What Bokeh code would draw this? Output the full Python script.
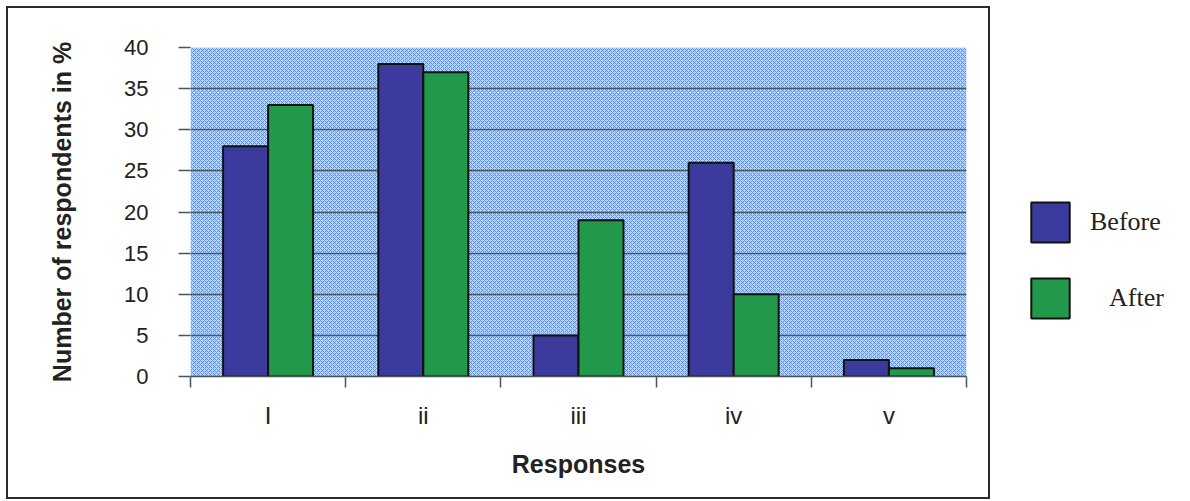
from bokeh.plotting import figure
from bokeh.models import (ColumnDataSource, Range1d, FixedTicker, BoxAnnotation,
                          Legend, LegendItem)
from bokeh.transform import dodge
from bokeh.layouts import row
from bokeh.embed import file_html
from bokeh.resources import INLINE

# ---- data ----
categories = ["I", "ii", "iii", "iv", "v"]
before = [28, 38, 5, 26, 2]
after = [33, 37, 19, 10, 1]
y_ticks = [0, 5, 10, 15, 20, 25, 30, 35, 40]
series_names = ["Before", "After"]

BEFORE_COLOR = "#3b3b9d"
AFTER_COLOR = "#21984a"
TEXT = "#222222"
AX = "#4d5656"

centers = [i + 0.5 for i in range(len(categories))]
source = ColumnDataSource(dict(x=centers, cat=categories, before=before, after=after))

p = figure(width=984, height=493, output_backend="svg", toolbar_location=None,
           x_range=Range1d(0, len(categories)), y_range=Range1d(0, 40),
           min_border_left=182, min_border_right=26, min_border_top=39,
           min_border_bottom=125)
p.styles = {"border": "2px solid #2b2b2b"}
p.margin = (6, 0, 0, 6)
p.outline_line_color = None
p.background_fill_color = "white"

# hatched blue plot area
bg = BoxAnnotation(fill_color="#b8d5f7", fill_alpha=1.0, line_color=None,
                   hatch_pattern="diagonal_cross", hatch_color="#4f84de",
                   hatch_scale=4, hatch_weight=1, hatch_alpha=0.85, level="image")
p.add_layout(bg)

bw = 0.29
r_before = p.vbar(x=dodge("x", -bw / 2, range=p.x_range), top="before", width=bw,
                  source=source, fill_color=BEFORE_COLOR, line_color="#111111",
                  line_width=2)
r_after = p.vbar(x=dodge("x", bw / 2, range=p.x_range), top="after", width=bw,
                 source=source, fill_color=AFTER_COLOR, line_color="#111111",
                 line_width=2)

# grid
p.xgrid.visible = False
p.ygrid.ticker = FixedTicker(ticks=[t for t in y_ticks if t < 40])
p.ygrid.grid_line_color = AX
p.ygrid.grid_line_width = 1.5

# x axis: labels at centers, ticks at category boundaries
xa = p.xaxis[0]
xa.ticker = FixedTicker(ticks=centers, minor_ticks=list(range(len(categories) + 1)))
xa.major_label_overrides = {c: lab for c, lab in zip(centers, categories)}
xa.major_tick_out = 0
xa.major_tick_in = 0
xa.major_tick_line_color = None
xa.minor_tick_out = 11
xa.minor_tick_in = 0
xa.minor_tick_line_color = AX
xa.minor_tick_line_width = 1.5
xa.axis_line_color = AX
xa.axis_line_width = 1.5
xa.major_label_standoff = 14
xa.major_label_text_font = "Liberation Sans"
xa.major_label_text_font_size = "24px"
xa.major_label_text_color = TEXT
xa.axis_label = "Responses"
xa.axis_label_text_font = "Liberation Sans"
xa.axis_label_text_font_style = "bold"
xa.axis_label_text_font_size = "25px"
xa.axis_label_text_color = TEXT
xa.axis_label_standoff = 18

# y axis
ya = p.yaxis[0]
ya.ticker = FixedTicker(ticks=y_ticks)
ya.axis_line_color = None
ya.major_tick_out = 12
ya.major_tick_in = 0
ya.major_tick_line_color = AX
ya.major_tick_line_width = 1.5
ya.minor_tick_line_color = None
ya.major_label_standoff = 30
ya.major_label_text_font = "Liberation Sans"
ya.major_label_text_font_size = "22px"
ya.major_label_text_color = TEXT
ya.axis_label = "Number of respondents in %"
ya.axis_label_text_font = "Liberation Sans"
ya.axis_label_text_font_style = "bold"
ya.axis_label_text_font_size = "25px"
ya.axis_label_text_color = TEXT
ya.axis_label_standoff = 45

# ---- legend panel (outside the bordered chart) ----
leg = figure(width=185, height=489, output_backend="svg", toolbar_location=None,
             x_range=Range1d(0, 1), y_range=Range1d(0, 1), min_border=0)
leg.margin = (6, 0, 0, 0)
leg.axis.visible = False
leg.grid.visible = False
leg.outline_line_color = None
# legend-only proxies (no drawable value), styled like the bars
proxy = ColumnDataSource(dict(x=[float("nan")], top=[float("nan")]))
lr_before = leg.vbar(x="x", top="top", width=0.1, source=proxy,
                     fill_color=BEFORE_COLOR, line_color="#111111", line_width=2)
lr_after = leg.vbar(x="x", top="top", width=0.1, source=proxy,
                    fill_color=AFTER_COLOR, line_color="#111111", line_width=2)

def make_legend(name, rend, loc, standoff):
    lg = Legend(items=[LegendItem(label=name, renderers=[rend])], location=loc,
                glyph_width=48, glyph_height=50, label_standoff=standoff,
                label_text_font="Liberation Serif", label_text_font_size="26px",
                label_text_color=TEXT, border_line_color=None,
                background_fill_alpha=0, margin=0, padding=0)
    leg.add_layout(lg)

make_legend(series_names[0], lr_before, (36, 123), 16)
make_legend(series_names[1], lr_after, (36, 47), 35)

layout = row(p, leg)
open("out.html", "w").write(file_html(layout, INLINE))
